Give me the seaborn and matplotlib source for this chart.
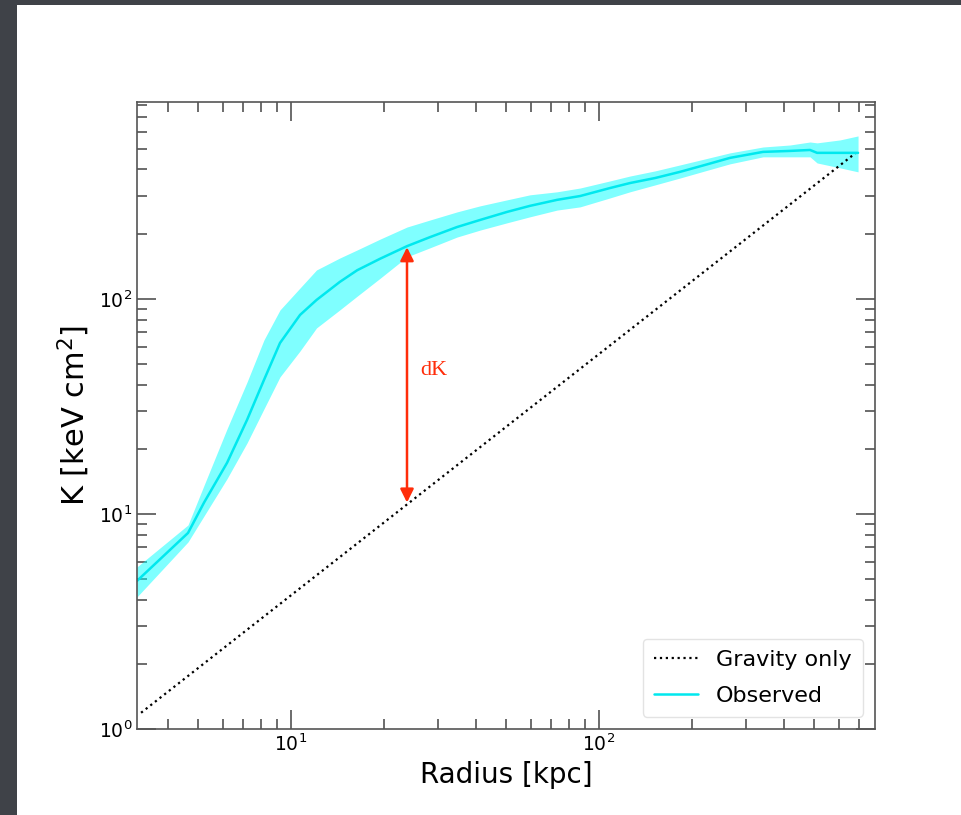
import matplotlib
matplotlib.use("Agg")
import matplotlib.pyplot as plt
import seaborn as sns
from matplotlib.patches import Rectangle

# Observed entropy profile: radius [kpc], mean K and 1-sigma band [keV cm^2]
radius_kpc = [3.16, 4.63, 5.22, 6.20, 7.20, 8.17, 9.21, 10.7, 12.1, 14.4, 16.4,
              19.5, 23.8, 28.3, 34.6, 41.1, 50.3, 59.7, 73.1, 86.8, 108.6, 126.1,
              152.0, 183.2, 220.9, 266.3, 340.8, 417.0, 484.2, 510.4, 606.0, 693.4]
K_obs = [4.88, 8.16, 11.3, 17.3, 27.4, 42.0, 62.4, 84.3, 98.9, 120, 136,
         154, 176, 194, 216, 233, 254, 271, 289, 301, 328, 346,
         365, 390, 420, 453, 483, 488, 493, 478, 478, 478]
K_hi = [5.67, 8.89, 13.6, 24.9, 41.1, 64.5, 88.9, 112.5, 136.4, 155, 169,
        190, 216, 233, 254, 271, 289, 305, 315, 328, 354, 373,
        394, 420, 448, 478, 509, 520, 537, 532, 549, 573]
K_lo = [4.11, 7.41, 9.79, 14.6, 21.4, 30.8, 43.4, 57.3, 73.3, 88.9, 103,
        125, 157, 173, 194, 209, 226, 241, 259, 268, 295, 315,
        339, 365, 394, 425, 458, 458, 458, 429, 407, 390]

# Gravity-only (self-similar) baseline
grav_r = [3.26, 682.0]
grav_K = [1.19, 478.0]

# Entropy excess marker
dK_r = 23.8
dK_K = [11.3, 174.0]
dK_text_pos = (26.2, 46.7)

sns.set_theme(style="white")
plt.rcParams["font.family"] = ["DejaVu Sans"]
plt.rcParams["mathtext.fontset"] = "dejavusans"
plt.rcParams["text.color"] = "black"
plt.rcParams["axes.labelcolor"] = "black"
plt.rcParams["xtick.color"] = "black"
plt.rcParams["ytick.color"] = "black"

fig = plt.figure(figsize=(9.62, 8.15), dpi=100)
fig.patch.set_facecolor("white")
ax = fig.add_axes([137 / 962, 1 - 729 / 815, (875 - 137) / 962, (729 - 102) / 815])

sns.lineplot(x=grav_r, y=grav_K, ax=ax, color="black", linestyle=":",
             linewidth=1.6, label="Gravity only")
ax.fill_between(radius_kpc, K_lo, K_hi, color="#00ffff", alpha=0.5, linewidth=0)
sns.lineplot(x=radius_kpc, y=K_obs, ax=ax, color="#00e8ee", linewidth=1.8,
             label="Observed")

ax.annotate("", xy=(dK_r, dK_K[1]), xytext=(dK_r, dK_K[0]),
            arrowprops=dict(arrowstyle="<|-|>", color="#ff2d0a", lw=1.8,
                            mutation_scale=20, shrinkA=0, shrinkB=0))
ax.text(*dK_text_pos, "dK", color="#ff2d0a", fontsize=16,
        family="Liberation Serif", ha="left", va="center")

ax.set_xscale("log")
ax.set_yscale("log")
ax.set_xlim(10 ** 0.5, 787)
ax.set_ylim(1, 824)

ax.tick_params(which="both", direction="in", top=True, right=True,
               bottom=True, left=True, labelbottom=True, labelleft=True,
               color="#444444", width=1.1, labelsize=13.5)
ax.tick_params(which="major", length=14)
ax.tick_params(which="minor", length=7)
for sp in ax.spines.values():
    sp.set_color("#555555")
    sp.set_linewidth(1.2)

ax.set_xlabel("Radius [kpc]", fontsize=20, labelpad=4)
ax.set_ylabel("K [keV cm$^{2}$]", fontsize=22, labelpad=5)

leg = ax.legend(loc="lower right", fontsize=16, frameon=True, handlelength=2.0,
                fancybox=True, borderpad=0.5, labelspacing=0.7,
                borderaxespad=0.55)
leg.get_frame().set_edgecolor("#dddddd")

# dark screen edges surrounding the slide
fig.add_artist(Rectangle((0, 0), 17 / 962, 1, transform=fig.transFigure,
                         facecolor="#3f4248", edgecolor="none", zorder=10))
fig.add_artist(Rectangle((0, 1 - 5 / 815), 1, 5 / 815, transform=fig.transFigure,
                         facecolor="#3f4248", edgecolor="none", zorder=10))

fig.savefig("out.png", dpi=100, facecolor="white")
